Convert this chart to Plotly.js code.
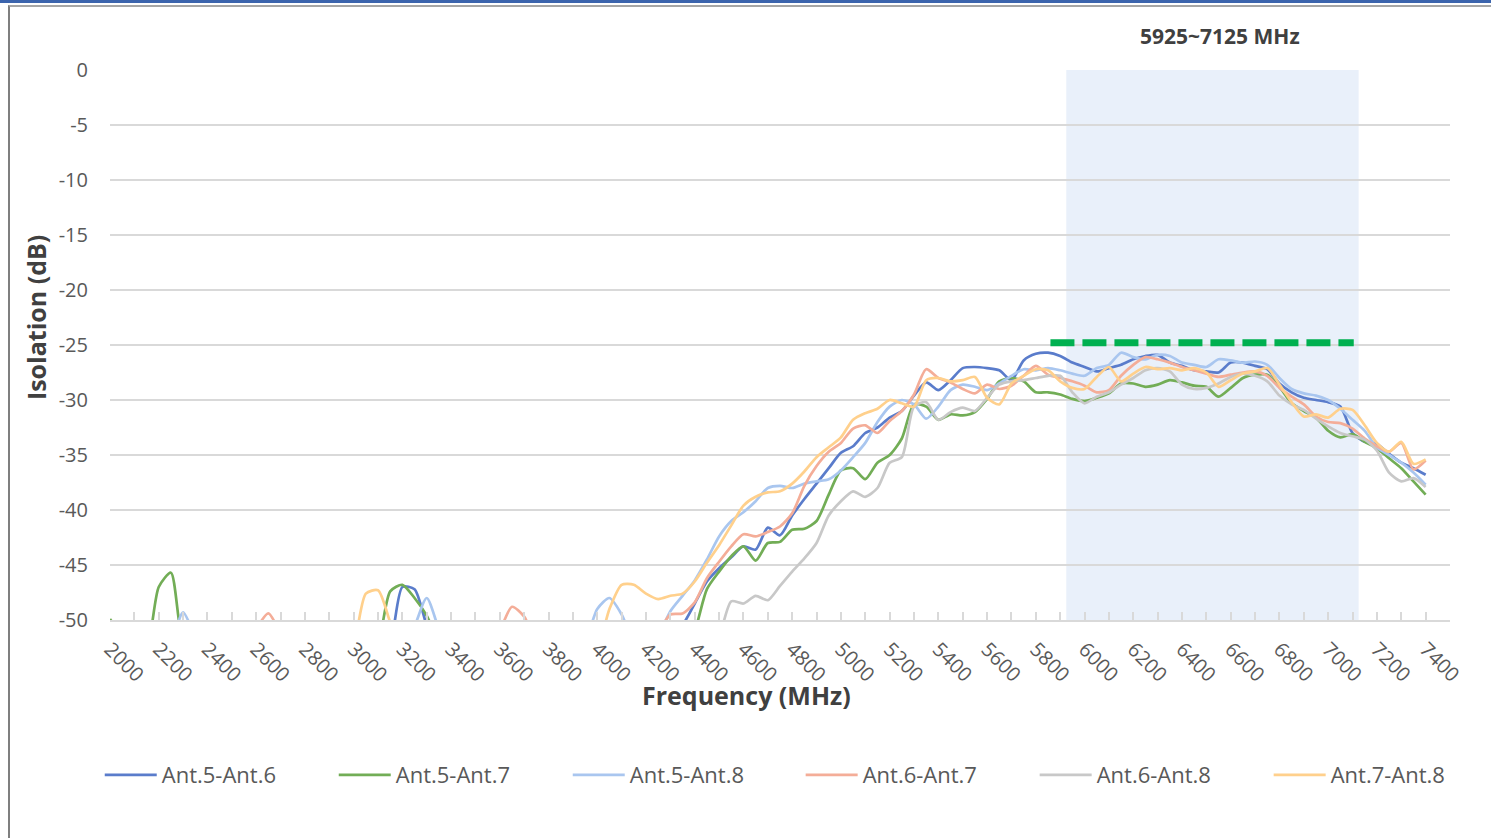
<!DOCTYPE html>
<html>
<head>
<meta charset="utf-8">
<title>Isolation</title>
<script src="https://cdn.plot.ly/plotly-3.0.1.min.js"></script>
<style>
  html, body { margin: 0; padding: 0; background: #fff; }
  body { width: 1491px; height: 838px; position: relative; overflow: hidden; }
  .topBar { position: absolute; left: 0; top: 0; width: 1491px; height: 3px; background: #3b64ad; }
  .frame { position: absolute; left: 8px; top: 5px; width: 1500px; height: 850px;
           border-left: 2px solid #7f7f7f; border-top: 2px solid #a6a6a6; }
  #chart { position: absolute; left: 0; top: 0; width: 1491px; height: 838px; }
</style>
</head>
<body>
<div class="topBar"></div>
<div class="frame"></div>
<div id="chart"></div>
<script>
// ============================================================================
// 데이터 (MHz / dB) - 그림에서 읽은 값, -53 은 축 아래(보이지 않음)
// ============================================================================

const freqs = [
    2000, 2050, 2100, 2150, 2200, 2250, 2300, 2350, 2400, 2450, 2500, 2550, 2600, 2650, 2700, 2750, 2800, 2850, 2900, 2950,
    3000, 3050, 3100, 3150, 3200, 3250, 3300, 3350, 3400, 3450, 3500, 3550, 3600, 3650, 3700, 3750, 3800, 3850, 3900, 3950,
    4000, 4050, 4100, 4150, 4200, 4250, 4300, 4350, 4400, 4450, 4500, 4550, 4600, 4650, 4700, 4750, 4800, 4850, 4900, 4950,
    5000, 5050, 5100, 5150, 5200, 5250, 5300, 5350, 5400, 5450, 5500, 5550, 5600, 5650, 5700, 5750, 5800, 5850, 5900, 5950,
    6000, 6050, 6100, 6150, 6200, 6250, 6300, 6350, 6400, 6450, 6500, 6550, 6600, 6650, 6700, 6750, 6800, 6850, 6900, 6950,
    7000, 7050, 7100, 7150, 7200, 7250, 7300, 7350, 7400
];

const seriesNames = ['Ant.5-Ant.6', 'Ant.5-Ant.7', 'Ant.5-Ant.8', 'Ant.6-Ant.7', 'Ant.6-Ant.8', 'Ant.7-Ant.8'];

const ant56 = [
    -53, -53, -53, -53, -53, -53, -53, -53, -53, -53, -53, -53, -53, -53, -53, -53, -53, -53, -53, -53,
    -53, -53, -53, -52, -47.0, -47.2, -50.5, -53, -53, -53, -53, -53, -53, -53, -53, -53, -53, -53, -53, -53,
    -53, -53, -53, -53, -53, -53, -52, -50.5, -48.5, -46.5, -45.3, -44.3, -43.3, -43.6, -41.6, -42.3, -40.5, -39.0, -37.6, -36.2,
    -34.8, -34.2, -33.0, -32.5, -31.6, -31.0, -29.6, -28.4, -29.1, -28.2, -27.1, -27.0, -27.1, -27.3, -28.2, -26.4, -25.8, -25.7, -26.0, -26.6,
    -27.0, -27.4, -27.1, -26.8, -26.3, -26.0, -25.9, -26.6, -26.9, -27.3, -27.4, -27.5, -26.6, -26.6, -26.9, -27.2, -28.5, -29.3, -29.8, -30.0,
    -30.2, -30.6, -33.0, -33.8, -34.0, -34.9, -35.7, -36.2, -36.8
];

const ant57 = [
    -49.9, -51.5, -53, -52.5, -47.0, -45.7, -52, -53, -53, -53, -53, -53, -53, -53, -53, -53, -53, -53, -53, -53,
    -53, -53, -52, -47.4, -46.8, -48.0, -49.6, -52, -53, -53, -53, -53, -53, -53, -53, -53, -53, -53, -53, -53,
    -53, -53, -53, -53, -53, -53, -53, -53, -51, -47.2, -45.6, -44.2, -43.3, -44.6, -43.0, -42.9, -41.8, -41.7, -41.0, -38.6,
    -36.4, -36.2, -37.2, -35.7, -35.0, -33.5, -30.4, -30.6, -31.8, -31.3, -31.4, -31.1, -29.9, -28.3, -28.0, -28.3, -29.3, -29.3, -29.5, -29.9,
    -30.1, -29.8, -29.4, -28.5, -28.5, -28.8, -28.6, -28.2, -28.4, -28.7, -28.8, -29.7, -28.9, -28.0, -27.7, -27.7, -28.8, -30.3, -31.0, -31.6,
    -32.8, -33.4, -33.1, -33.8, -34.4, -35.3, -36.2, -37.4, -38.6
];

const ant58 = [
    -53, -53, -53, -53, -53, -52, -49.3, -51.5, -53, -53, -53, -53, -53, -53, -53, -53, -53, -53, -53, -53,
    -53, -53, -53, -53, -53, -50.6, -48.0, -50.8, -53, -53, -53, -53, -53, -53, -53, -53, -53, -53, -53, -52,
    -49.0, -48.0, -49.5, -52, -53, -51.5, -49.2, -47.8, -46.4, -44.5, -42.4, -41.0, -40.2, -39.2, -38.0, -37.8, -38.0, -37.6, -37.4, -37.2,
    -36.4, -35.2, -33.9, -32.0, -30.6, -30.0, -30.4, -31.7, -30.6, -29.1, -28.6, -28.8, -29.1, -28.5, -27.8, -27.2, -27.3, -27.1, -27.3, -27.6,
    -27.8, -27.1, -26.8, -25.7, -26.1, -26.3, -25.9, -26.0, -26.6, -26.8, -27.0, -26.3, -26.4, -26.6, -26.5, -26.8, -28.0, -29.0, -29.4, -29.6,
    -30.0, -30.8, -31.8, -32.8, -34.3, -35.0, -35.7, -36.6, -37.7
];

const ant67 = [
    -53, -53, -53, -53, -53, -53, -53, -53, -53, -53, -53, -53, -50.8, -49.4, -51.2, -53, -53, -53, -53, -53,
    -53, -53, -53, -53, -53, -53, -53, -53, -53, -53, -53, -53, -51, -48.8, -49.7, -52, -53, -53, -53, -53,
    -53, -53, -53, -53, -53, -51.2, -49.5, -49.4, -48.4, -46.2, -44.7, -43.3, -42.2, -42.4, -42.0, -41.5, -40.3, -37.8, -36.0, -34.7,
    -33.9, -32.6, -32.3, -33.0, -31.9, -31.0, -29.5, -27.2, -28.0, -28.4, -29.0, -29.4, -28.6, -29.0, -28.7, -27.8, -26.9, -27.7, -28.0, -28.3,
    -28.7, -29.3, -29.1, -27.8, -26.8, -26.1, -26.3, -26.6, -27.0, -27.3, -27.6, -27.9, -27.7, -27.5, -27.4, -27.8, -28.9, -29.7, -30.4, -31.5,
    -32.0, -32.1, -32.6, -33.5, -34.2, -34.7, -33.9, -36.3, -35.5
];

const ant68 = [
    -53, -53, -53, -53, -53, -53, -53, -53, -53, -53, -53, -53, -53, -53, -53, -53, -53, -53, -53, -53,
    -53, -53, -53, -53, -53, -53, -53, -53, -53, -53, -53, -53, -53, -53, -53, -53, -53, -53, -53, -53,
    -53, -53, -53, -53, -53, -53, -53, -53, -53, -53, -51.5, -48.3, -48.5, -47.8, -48.2, -46.9, -45.6, -44.4, -43.0, -40.5,
    -39.2, -38.3, -38.8, -38.0, -35.7, -35.2, -30.6, -30.2, -31.8, -31.1, -30.7, -31.0, -29.8, -28.6, -28.3, -28.2, -28.0, -27.8, -27.8, -29.3,
    -30.3, -29.7, -29.3, -28.6, -28.0, -27.3, -27.1, -27.4, -28.6, -29.0, -28.9, -28.5, -27.9, -27.6, -27.8, -28.3, -29.6, -30.4, -30.9, -31.7,
    -32.4, -33.0, -33.3, -33.6, -34.6, -36.6, -37.4, -37.1, -37.9
];

const ant78 = [
    -53, -53, -53, -53, -53, -53, -53, -53, -53, -53, -53, -53, -53, -53, -53, -53, -53, -53, -53, -53,
    -52, -47.6, -47.3, -50.2, -53, -53, -53, -53, -53, -53, -53, -53, -53, -53, -53, -53, -53, -53, -53, -53,
    -52.5, -49.0, -46.8, -46.8, -47.6, -48.1, -47.8, -47.6, -46.5, -44.8, -43.2, -41.4, -39.6, -38.8, -38.4, -38.3, -37.6, -36.5, -35.2, -34.3,
    -33.4, -31.8, -31.2, -30.8, -30.0, -30.3, -30.6, -28.2, -28.0, -28.3, -28.2, -27.9, -29.8, -30.4, -28.5, -27.8, -27.2, -27.3, -28.3, -28.9,
    -29.0, -27.9, -27.0, -28.3, -27.6, -27.0, -27.2, -27.1, -27.3, -27.1, -27.5, -28.8, -28.2, -27.6, -27.4, -27.1, -28.6, -30.2, -31.5, -31.3,
    -31.6, -30.8, -30.9, -32.3, -33.9, -34.7, -33.8, -35.8, -35.4
];

const seriesValues = [ant56, ant57, ant58, ant67, ant68, ant78];
const seriesColors = ['#5a7ccb', '#72ad56', '#a9c6ef', '#f4ad98', '#c8c8c8', '#ffd08c'];

// y축 눈금 (엑셀처럼 하이픈 사용)
const yTickVals = [0, -5, -10, -15, -20, -25, -30, -35, -40, -45, -50];
const yTickText = ['0', '-5', '-10', '-15', '-20', '-25', '-30', '-35', '-40', '-45', '-50'];

// 6 GHz 대역 및 기준선
const bandRange = [5925, 7125];
const bandLabel = '5925~7125 MHz';
const limitFreqs = [5860, 7105];
const limitLevel = [-24.8, -24.8];

// ============================================================================
// 차트 생성
// ============================================================================

function buildTraces() {
    // 범례가 한 줄에 다 안 들어가서 앞 3개 / 뒤 3개를 두 범례로 나눔
    const traces = seriesValues.map((values, i) => ({
        x: freqs,
        y: values,
        name: seriesNames[i],
        legend: i < 3 ? 'legend' : 'legend2',
        type: 'scatter',
        mode: 'lines',
        line: { color: seriesColors[i], width: 2.7, shape: 'spline', smoothing: 0.7 },
        hoverinfo: 'x+y+name'
    }));

    // 녹색 점선 (기준 레벨)
    traces.push({
        x: limitFreqs,
        y: limitLevel,
        type: 'scatter',
        mode: 'lines',
        showlegend: false,
        hoverinfo: 'skip',
        line: { color: '#00b050', width: 7, dash: '24px,8px' }
    });

    return traces;
}

// container 기준 위치 (플롯 영역 margin 을 밀지 않도록)
function legendStyle(xPos) {
    return {
        orientation: 'h',
        xref: 'container',
        yref: 'container',
        x: xPos,
        y: 0.0752,
        xanchor: 'left',
        yanchor: 'middle',
        itemwidth: 52,
        entrywidth: 167,
        entrywidthmode: 'pixels',
        font: { size: 22, color: '#595959' },
        bgcolor: 'rgba(0,0,0,0)'
    };
}

function buildLayout() {
    const grey = '#d9d9d9';
    return {
        width: 1491,
        height: 838,
        margin: { l: 110, r: 41, t: 70, b: 218 },
        paper_bgcolor: 'rgba(0,0,0,0)',
        plot_bgcolor: 'rgba(0,0,0,0)',
        font: { family: '"Open Sans", sans-serif', color: '#595959' },
        xaxis: {
            range: [2000, 7500],
            tick0: 2000,
            dtick: 200,
            tickangle: 45,
            ticks: 'inside',
            ticklen: 8,
            tickwidth: 1.5,
            tickcolor: grey,
            minor: { dtick: 100, ticks: 'inside', ticklen: 8, tickwidth: 1.5, tickcolor: grey, showgrid: false },
            showline: true,
            linecolor: grey,
            linewidth: 1.5,
            showgrid: false,
            zeroline: false,
            ticklabelstandoff: 8,
            tickfont: { size: 20, color: '#595959' }
        },
        yaxis: {
            range: [-50, 0],
            tickmode: 'array',
            tickvals: yTickVals,
            ticktext: yTickText,
            showgrid: true,
            gridcolor: grey,
            gridwidth: 1.5,
            zeroline: false,
            showline: false,
            ticks: '',
            ticklabelstandoff: 21,
            tickfont: { size: 20, color: '#595959' }
        },
        showlegend: true,
        legend: legendStyle(0.0669),
        legend2: legendStyle(0.537),
        shapes: [{
            type: 'rect',
            xref: 'x',
            yref: 'y',
            x0: bandRange[0],
            x1: bandRange[1],
            y0: -50,
            y1: 0,
            fillcolor: '#e9f0fa',
            line: { width: 0 },
            layer: 'below'
        }],
        annotations: [
            {
                text: '<b>' + bandLabel + '</b>',
                xref: 'x', yref: 'paper',
                x: 6555, y: 1.062,
                xanchor: 'center', yanchor: 'middle',
                showarrow: false,
                font: { size: 21, color: '#404040' }
            },
            {
                text: '<b>Frequency (MHz)</b>',
                xref: 'paper', yref: 'paper',
                x: 0.475, y: -0.136,
                xanchor: 'center', yanchor: 'middle',
                showarrow: false,
                font: { size: 25, color: '#404040' }
            },
            {
                text: '<b>Isolation (dB)</b>',
                xref: 'paper', yref: 'paper',
                x: -0.0552, y: 0.549,
                xanchor: 'center', yanchor: 'middle',
                textangle: -90,
                showarrow: false,
                font: { size: 25, color: '#404040' }
            }
        ]
    };
}

function createVisualization() {
    const container = document.getElementById('chart');
    Plotly.newPlot(container, buildTraces(), buildLayout(), { displayModeBar: false, responsive: false });
}

document.addEventListener('DOMContentLoaded', createVisualization);
</script>
</body>
</html>
